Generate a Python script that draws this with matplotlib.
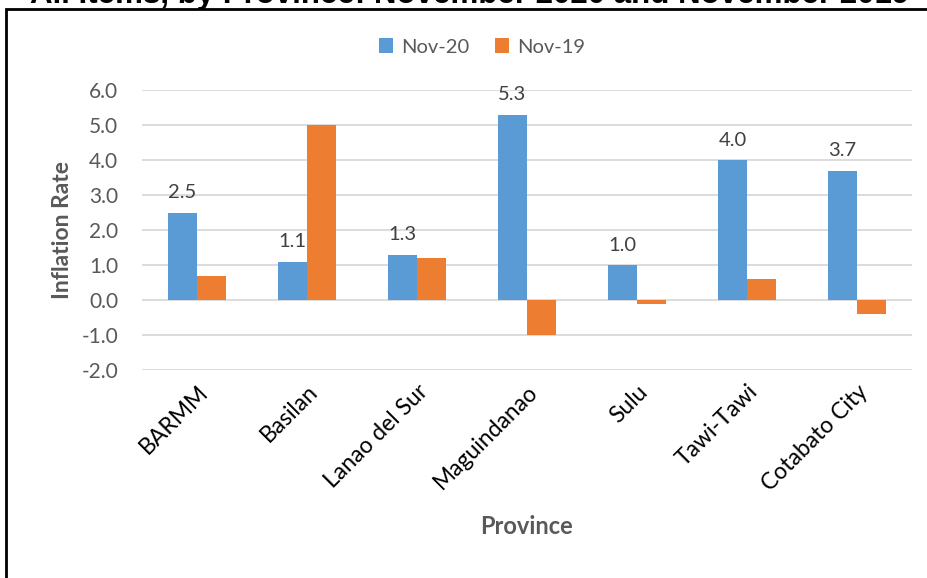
import matplotlib.pyplot as plt
import numpy as np
from matplotlib.patches import Rectangle

provinces = ["BARMM", "Basilan", "Lanao del Sur", "Maguindanao", "Sulu", "Tawi-Tawi", "Cotabato City"]
nov20 = [2.5, 1.1, 1.3, 5.3, 1.0, 4.0, 3.7]
nov19 = [0.7, 5.0, 1.2, -1.0, -0.1, 0.6, -0.4]
yticks = [-2.0, -1.0, 0.0, 1.0, 2.0, 3.0, 4.0, 5.0, 6.0]

plt.rcParams['font.family'] = ['Lato', 'DejaVu Sans']

fig = plt.figure(figsize=(9.28, 5.78), dpi=100)
W, H = 928, 578
ax = fig.add_axes([142 / W, 1 - 370 / H, 770 / W, 280 / H])

x = np.arange(len(provinces))
w = 0.264
b1 = ax.bar(x - w / 2, nov20, w, color="#5b9bd5", label="Nov-20", zorder=3)
b2 = ax.bar(x + w / 2, nov19, w, color="#ed7d31", label="Nov-19", zorder=3)

for rect, v in zip(b1, nov20):
    ax.annotate(f"{v:.1f}", (rect.get_x() + rect.get_width() / 2, v),
                xytext=(0, 8), textcoords="offset points", ha="center", va="bottom",
                fontsize=14.5, color="#404040")

ax.set_xlim(-0.5, len(provinces) - 0.5)
ax.set_ylim(-2, 6)
ax.set_yticks(yticks)
ax.set_yticklabels([f"{t:.1f}" for t in yticks], fontsize=15, color="#595959")
ax.grid(axis="y", color="#d9d9d9", linewidth=1.3, zorder=0)
ax.tick_params(length=0)
ax.tick_params(axis="y", pad=17)
ax.tick_params(axis="x", pad=8)
for s in ax.spines.values():
    s.set_visible(False)

ax.set_xticks(x)
ax.set_xticklabels(provinces, rotation=45, ha="right", rotation_mode="anchor",
                   fontsize=16.5, color="#000000")

ax.set_ylabel("Inflation Rate", fontsize=16.5, fontweight="bold", color="#595959", labelpad=6)
fig.text(527 / W, 1 - 526 / H, "Province", fontsize=17, fontweight="bold",
         color="#595959", ha="center", va="center")

ax.legend(loc="center", bbox_to_anchor=(482 / W, 1 - 47 / H), bbox_transform=fig.transFigure,
          ncol=2, frameon=False, fontsize=14.5, handlelength=0.7, handleheight=0.7,
          handletextpad=0.4, columnspacing=1.3, labelcolor="#595959")

fig.text(30 / W, 1 - 3 / H, "All Items, by Province: November 2020 and November 2019",
         fontsize=22.5, fontweight="bold", family=["Liberation Sans", "DejaVu Sans"],
         ha="left", va="baseline", color="#000000")

fig.patches.append(Rectangle((6 / W, -0.1), 1.2, 1 - 9 / H + 0.1, transform=fig.transFigure,
                             fill=False, edgecolor="black", linewidth=2))

fig.savefig("out.png", dpi=100)
